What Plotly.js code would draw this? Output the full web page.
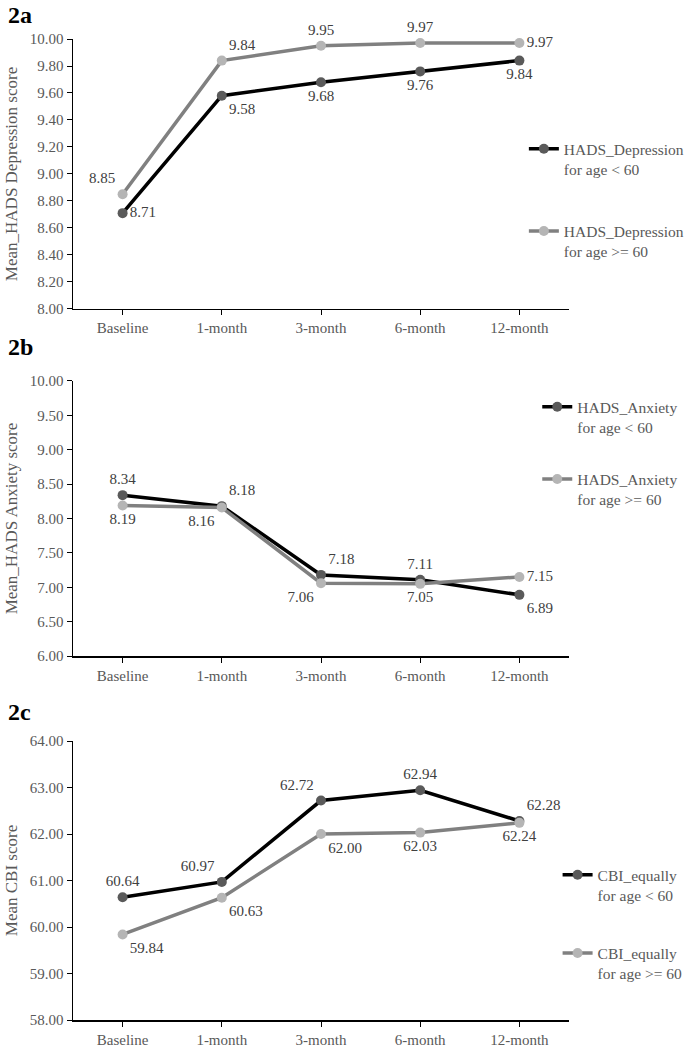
<!DOCTYPE html>
<html>
<head>
<meta charset="utf-8">
<script src="https://cdn.plot.ly/plotly-3.0.1.min.js"></script>
<style>
  html, body { margin: 0; padding: 0; background: #fff; }
  #chart { width: 685px; height: 1046px; }
</style>
</head>
<body>
<div id="chart"></div>
<script>
// timepoints shared by all three panels
const timepoints = ["Baseline", "1-month", "3-month", "6-month", "12-month"];

// 2a HADS depression
const depYoung = [8.71, 9.58, 9.68, 9.76, 9.84];
const depOld = [8.85, 9.84, 9.95, 9.97, 9.97];
// 2b HADS anxiety
const anxYoung = [8.34, 8.18, 7.18, 7.11, 6.89];
const anxOld = [8.19, 8.16, 7.06, 7.05, 7.15];
// 2c CBI
const cbiYoung = [60.64, 60.97, 62.72, 62.94, 62.28];
const cbiOld = [59.84, 60.63, 62.00, 62.03, 62.24];

const fontFam = "Liberation Serif";
const txtColor = "#404040";

function series(x, y, name, young, axisN, legendId, pos) {
  var xa = axisN === 1 ? "x" : "x" + axisN;
  var ya = axisN === 1 ? "y" : "y" + axisN;
  return {
    x: x,
    y: y,
    xaxis: xa,
    yaxis: ya,
    name: name,
    legend: legendId,
    legendgroup: legendId + (young ? "a" : "b"),
    mode: "lines+markers+text",
    text: y.map(function (v) { return v.toFixed(2); }),
    textposition: pos,
    textfont: { family: fontFam, size: 15, color: txtColor },
    cliponaxis: false,
    line: { color: young ? "#000000" : "#808080", width: 3.5 },
    marker: { color: young ? "#5a5a5a" : "#b5b5b5", size: 10 },
    hoverinfo: "skip"
  };
}

var data = [
  series(timepoints, depYoung, "HADS_Depression<br>for age &lt; 60", true, 1, "legend",
    ["middle right", "bottom right", "bottom center", "bottom center", "bottom center"]),
  series(timepoints, depOld, "HADS_Depression<br>for age &gt;= 60", false, 1, "legend",
    ["top left", "top right", "top center", "top center", "middle right"]),
  series(timepoints, anxYoung, "HADS_Anxiety<br>for age &lt; 60", true, 2, "legend2",
    ["top center", "top right", "top right", "top center", "bottom right"]),
  series(timepoints, anxOld, "HADS_Anxiety<br>for age &gt;= 60", false, 2, "legend2",
    ["bottom center", "bottom left", "bottom left", "bottom center", "middle right"]),
  series(timepoints, cbiYoung, "CBI_equally<br>for age &lt; 60", true, 3, "legend3",
    ["top center", "top left", "top left", "top center", "top right"]),
  series(timepoints, cbiOld, "CBI_equally<br>for age &gt;= 60", false, 3, "legend3",
    ["bottom right", "bottom right", "bottom right", "bottom center", "bottom center"])
];

function xAxis(anchor) {
  return {
    anchor: anchor,
    domain: [0, 1],
    type: "category",
    range: [-0.5, 4.5],
    showline: true,
    linecolor: "#000",
    linewidth: 1.5,
    ticks: "outside",
    ticklen: 5,
    tickcolor: "#000",
    showgrid: false,
    zeroline: false,
    tickfont: { family: fontFam, size: 15, color: "#595959" }
  };
}

function yAxis(anchor, domain, lo, hi, step, title) {
  return {
    anchor: anchor,
    domain: domain,
    range: [lo, hi],
    dtick: step,
    tick0: lo,
    tickformat: ".2f",
    showline: true,
    linecolor: "#000",
    linewidth: 1.5,
    ticks: "outside",
    ticklen: 5,
    tickcolor: "#000",
    showgrid: false,
    zeroline: false,
    tickfont: { family: fontFam, size: 15, color: "#595959" },
    title: { text: title, font: { family: fontFam, size: 17, color: "#595959" }, standoff: 8 }
  };
}

function legendBox(x, y, gap) {
  return {
    x: x,
    y: y,
    xanchor: "left",
    yanchor: "top",
    bgcolor: "rgba(0,0,0,0)",
    font: { family: fontFam, size: 15.5, color: "#595959" },
    valign: "top",
    traceorder: "grouped",
    tracegroupgap: gap,
    itemwidth: 30
  };
}

function panelLabel(txt, y) {
  return {
    text: "<b>" + txt + "</b>",
    xref: "paper",
    yref: "paper",
    x: -0.135,
    y: y,
    xanchor: "left",
    yanchor: "middle",
    showarrow: false,
    font: { family: fontFam, size: 24, color: "#000" }
  };
}

var layout = {
  width: 685,
  height: 1046,
  margin: { l: 73, r: 116, t: 39, b: 26, autoexpand: false },
  font: { family: fontFam },
  paper_bgcolor: "#fff",
  plot_bgcolor: "#fff",
  showlegend: true,
  xaxis: xAxis("y"),
  yaxis: yAxis("x", [0.7248, 1], 8, 10, 0.2, "Mean_HADS Depression score"),
  xaxis2: xAxis("y2"),
  yaxis2: yAxis("x2", [0.371, 0.6514], 6, 10, 0.5, "Mean_HADS Anxiety score"),
  xaxis3: xAxis("y3"),
  yaxis3: yAxis("x3", [0, 0.2844], 58, 64, 1, "Mean CBI score"),
  legend: legendBox(0.909, 0.905, 39),
  legend2: legendBox(0.936, 0.642, 29),
  legend3: legendBox(0.977, 0.165, 35),
  annotations: [
    panelLabel("2a", 1.0245),
    panelLabel("2b", 0.686),
    panelLabel("2c", 0.314)
  ]
};

Plotly.newPlot("chart", data, layout, { displayModeBar: false, staticPlot: true });
</script>
</body>
</html>
